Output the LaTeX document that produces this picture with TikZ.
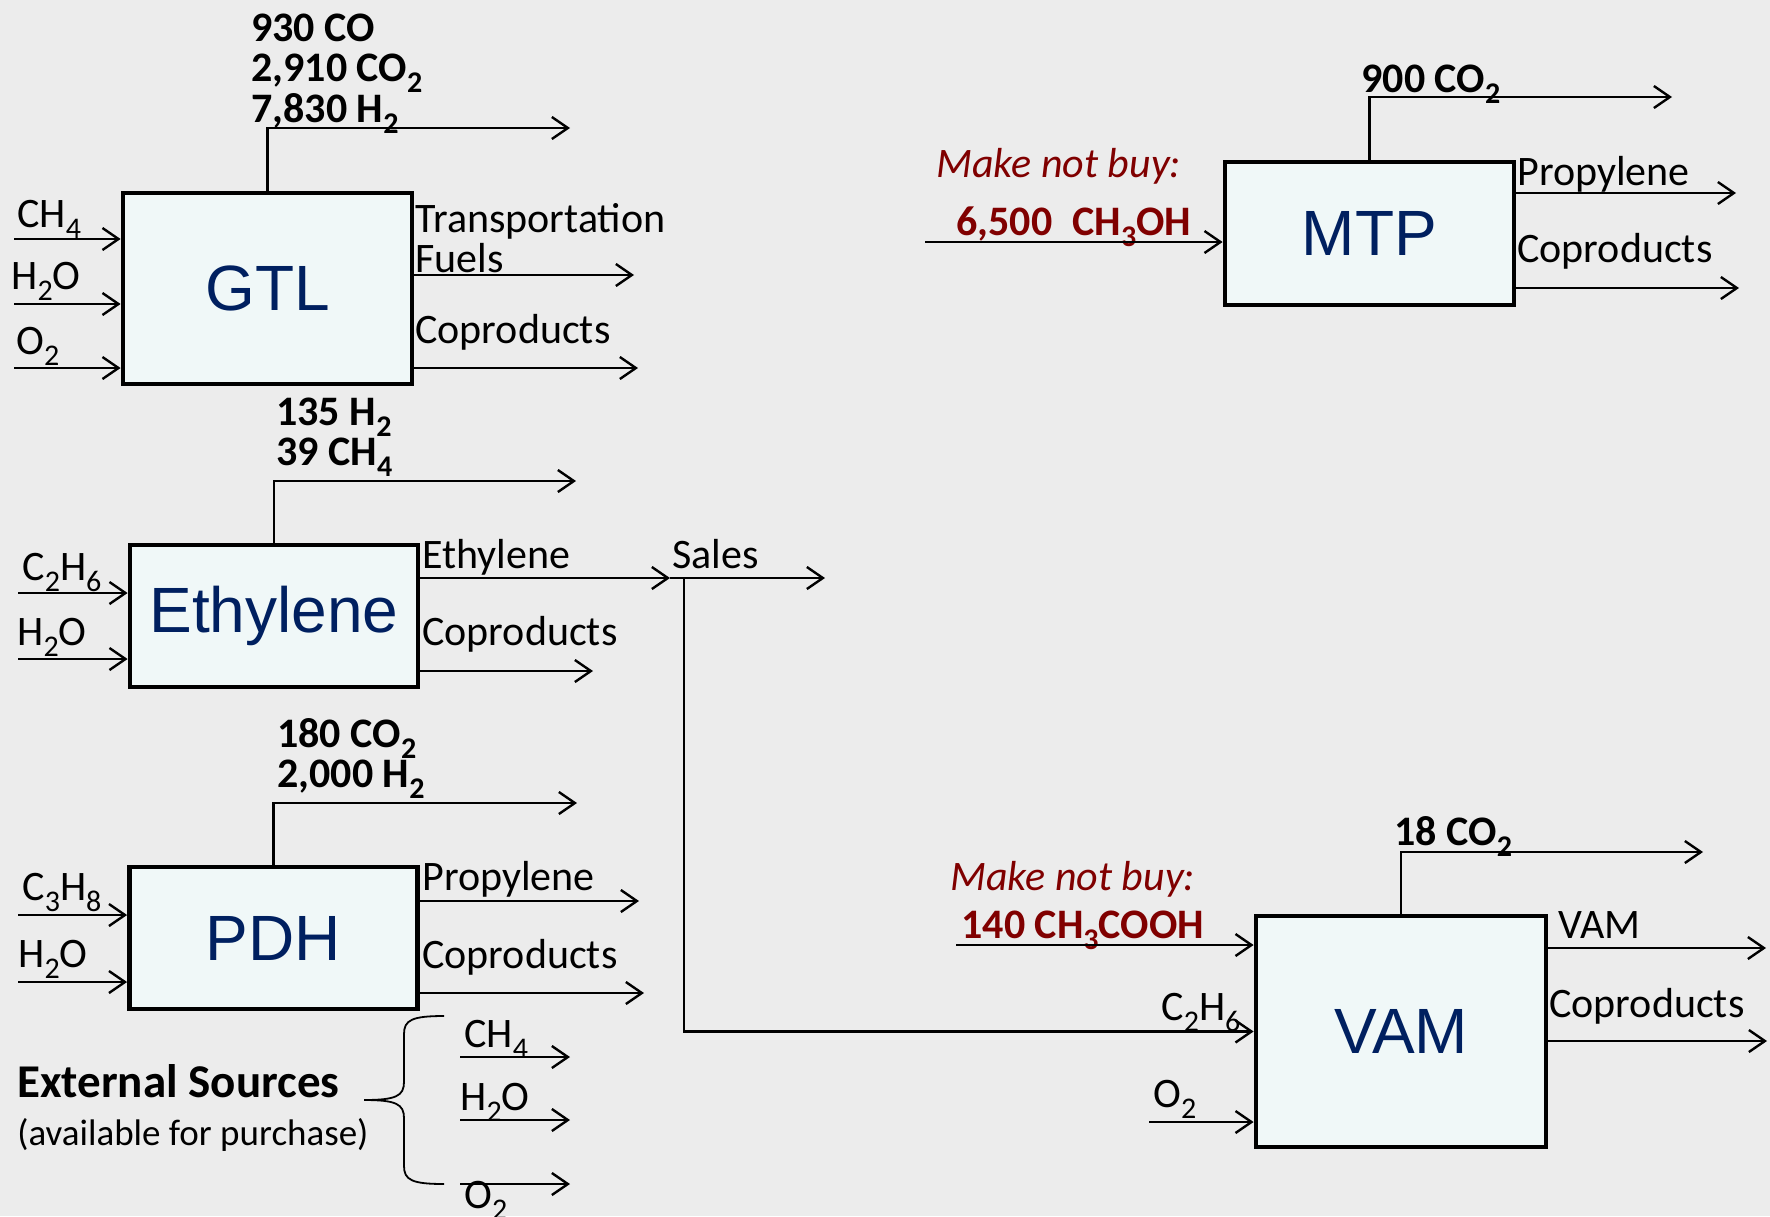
\documentclass[tikz,border=0pt]{standalone}
\usepackage{fontspec}
\setmainfont{Carlito}
\newfontfamily\boxfont{Liberation Sans}
\usetikzlibrary{arrows.meta}
\definecolor{bg}{RGB}{236,236,236}
\definecolor{boxfill}{RGB}{240,248,248}
\definecolor{boxtext}{RGB}{0,32,96}
\definecolor{dred}{RGB}{128,0,0}
\newcommand{\chs}[1]{\raisebox{-5.5pt}{\fontsize{15}{15}\selectfont #1}}
\begin{document}
\begin{tikzpicture}[x=0.5pt,y=-0.5pt,
 unit/.style={draw=black, line width=2.4pt, fill=boxfill, text=boxtext, font=\boxfont\fontsize{32}{32}\selectfont, inner sep=0pt},
 lbl/.style={anchor=base west, inner sep=0pt, font=\fontsize{21}{21}\selectfont},
 blbl/.style={anchor=base west, inner sep=0pt, font=\fontsize{21}{21}\selectfont\bfseries},
 redlbl/.style={blbl, text=dred},
 itlbl/.style={anchor=base west, inner sep=0pt, text=dred, font=\fontsize{21}{21}\selectfont\itshape},
 flow/.style={line width=1.2pt, -{Straight Barb[length=8pt,width=11pt]}},
]
\fill[bg] (0,0) rectangle (1770,1216);
\useasboundingbox (0,0) rectangle (1770,1216);

% ---------------- boxes
\node[unit, minimum width=144.5pt, minimum height=95.5pt] (gtl) at (267.5,288.5) {GTL};
\node[unit, minimum width=144pt, minimum height=71pt] (eth) at (274,616) {Ethylene};
\node[unit, minimum width=144pt, minimum height=71pt] (pdh) at (273.5,938) {PDH};
\node[unit, minimum width=144.5pt, minimum height=71.5pt] (mtp) at (1369.5,233.5) {MTP};
\node[unit, minimum width=145pt, minimum height=115.5pt] (vam) at (1401,1031.5) {VAM};

% ---------------- GTL
\node[blbl] (g1) at (251,41) {930 CO};
\node[blbl] (g2) at (251,81) {2,910 CO\chs{2}};
\node[blbl] (g3) at (251,122) {7,830 H\chs{2}};
\coordinate (gtop) at (570,128);
\draw[flow] (gtl.north) |- (gtop);
\node[lbl] (gi1l) at (17,227) {CH\chs{4}};
\node[lbl] (gi2l) at (11,289) {H\chs{2}O};
\node[lbl] (gi3l) at (16,354) {O\chs{2}};
\coordinate (gi1) at (14,239);
\coordinate (gi2) at (14,304);
\coordinate (gi3) at (14,368);
\draw[flow] (gi1) -- (gi1 -| gtl.west);
\draw[flow] (gi2) -- (gi2 -| gtl.west);
\draw[flow] (gi3) -- (gi3 -| gtl.west);
\node[lbl] (go1l) at (415,232) {Transportation};
\node[lbl] (go1m) at (415,272) {Fuels};
\node[lbl] (go2l) at (415,343) {Coproducts};
\coordinate (go1) at (634,275);
\coordinate (go2) at (638,368);
\draw[flow] (go1 -| gtl.east) -- (go1);
\draw[flow] (go2 -| gtl.east) -- (go2);

% ---------------- Ethylene
\node[blbl] (e1) at (276,425) {135 H\chs{2}};
\node[blbl] (e2) at (276,465) {39 CH\chs{4}};
\coordinate (etop) at (576,481);
\draw[flow] (eth.north) |- (etop);
\node[lbl] (ei1l) at (22,580) {C\chs{2}H\chs{6}};
\node[lbl] (ei2l) at (17,645) {H\chs{2}O};
\coordinate (ei1) at (18,593);
\coordinate (ei2) at (18,659);
\draw[flow] (ei1) -- (ei1 -| eth.west);
\draw[flow] (ei2) -- (ei2 -| eth.west);
\node[lbl] (eo1l) at (422,568) {Ethylene};
\node[lbl] (sales) at (672,568) {Sales};
\node[lbl] (eo2l) at (422,645) {Coproducts};
\coordinate (salesin) at (670,578);
\coordinate (salesout) at (825,578);
\coordinate (salesbr) at (684,578);
\coordinate (eo2) at (593,671);
\draw[flow] (salesin -| eth.east) -- (salesin);
\draw[flow] (salesin) -- (salesout);
\draw[flow] (salesbr) |- (vam.west);
\draw[flow] (eo2 -| eth.east) -- (eo2);

% ---------------- PDH
\node[blbl] (p1) at (277,747) {180 CO\chs{2}};
\node[blbl] (p2) at (277,787) {2,000 H\chs{2}};
\coordinate (ptop) at (577,803);
\draw[flow] (pdh.north) |- (ptop);
\node[lbl] (pi1l) at (22,900) {C\chs{3}H\chs{8}};
\node[lbl] (pi2l) at (18,967) {H\chs{2}O};
\coordinate (pi1) at (18,915);
\coordinate (pi2) at (18,982);
\draw[flow] (pi1) -- (pi1 -| pdh.west);
\draw[flow] (pi2) -- (pi2 -| pdh.west);
\node[lbl] (po1l) at (422,890) {Propylene};
\node[lbl] (po2l) at (422,968) {Coproducts};
\coordinate (po1) at (639,901);
\coordinate (po2) at (644,993);
\draw[flow] (po1 -| pdh.east) -- (po1);
\draw[flow] (po2 -| pdh.east) -- (po2);

% ---------------- External sources
\node[anchor=base west, inner sep=0pt, font=\fontsize{23.5}{23.5}\selectfont\bfseries] (ext) at (17,1097) {External Sources};
\node[anchor=base west, inner sep=0pt, font=\fontsize{18.5}{18.5}\selectfont] (extb) at (17,1145) {(available for purchase)};
\coordinate (brtop) at (444,1016);
\coordinate (brtip) at (364,1100);
\coordinate (brbot) at (444,1184);
\draw[line width=0.9pt] (brtop) .. controls (412,1016) and (404,1020) .. (404,1034) -- (404,1082)
  .. controls (404,1096) and (396,1100) .. (brtip)
  .. controls (396,1100) and (404,1104) .. (404,1118) -- (404,1166)
  .. controls (404,1180) and (412,1184) .. (brbot);
\node[lbl] (x1l) at (464,1047) {CH\chs{4}};
\node[lbl] (x2l) at (460,1110) {H\chs{2}O};
\node[lbl] (x3l) at (464,1208) {O\chs{2}};
\coordinate (x1a) at (460,1057); \coordinate (x1b) at (570,1057);
\coordinate (x2a) at (460,1120); \coordinate (x2b) at (570,1120);
\coordinate (x3a) at (460,1184); \coordinate (x3b) at (570,1184);
\draw[flow] (x1a) -- (x1b);
\draw[flow] (x2a) -- (x2b);
\draw[flow] (x3a) -- (x3b);

% ---------------- MTP
\node[blbl] (m1) at (1361,92) {900 CO\chs{2}};
\coordinate (mtop) at (1672,97);
\draw[flow] (mtp.north) |- (mtop);
\node[itlbl] (mnb) at (936,177) {Make not buy:};
\node[redlbl] (mi1l) at (956,235) {6,500\hspace{10pt}CH\chs{3}OH};
\coordinate (mi1) at (925,242);
\draw[flow] (mi1) -- (mi1 -| mtp.west);
\node[lbl] (mo1l) at (1517,185) {Propylene};
\node[lbl] (mo2l) at (1517,262) {Coproducts};
\coordinate (mo1) at (1736,193);
\coordinate (mo2) at (1739,288);
\draw[flow] (mo1 -| mtp.east) -- (mo1);
\draw[flow] (mo2 -| mtp.east) -- (mo2);

% ---------------- VAM
\node[blbl] (v1) at (1394,845) {18 CO\chs{2}};
\coordinate (vtop) at (1703,852);
\draw[flow] (vam.north) |- (vtop);
\node[itlbl] (vnb) at (950,890) {Make not buy:};
\node[redlbl] (vi1l) at (961,938) {140 CH\chs{3}COOH};
\coordinate (vi1) at (956,945);
\draw[flow] (vi1) -- (vi1 -| vam.west);
\node[lbl] (vi2l) at (1161,1020) {C\chs{2}H\chs{6}};
\node[lbl] (vi3l) at (1153,1107) {O\chs{2}};
\coordinate (vi3) at (1149,1122);
\draw[flow] (vi3) -- (vi3 -| vam.west);
\node[lbl] (vo1l) at (1558,938) {VAM};
\node[lbl] (vo2l) at (1549,1017) {Coproducts};
\coordinate (vo1) at (1766,948);
\coordinate (vo2) at (1767,1041);
\draw[flow] (vo1 -| vam.east) -- (vo1);
\draw[flow] (vo2 -| vam.east) -- (vo2);
\end{tikzpicture}
\end{document}
